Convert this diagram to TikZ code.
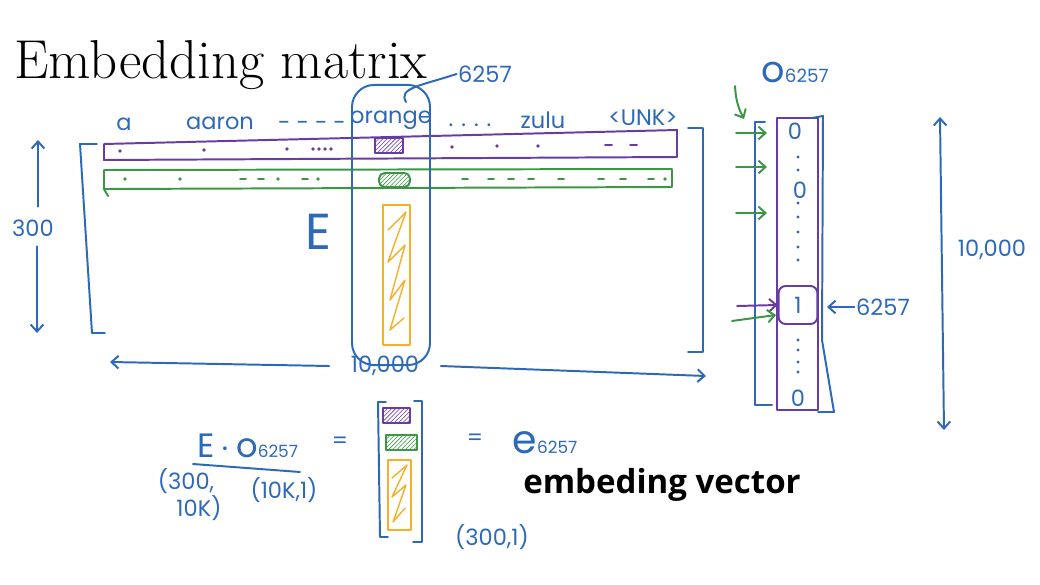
\documentclass[tikz,border=0pt]{standalone}
\usepackage{fontspec}
\usepackage{tikz}
\usetikzlibrary{arrows.meta,patterns}
\newfontfamily\handfont{Poppins}
\newfontfamily\slidefont{Open Sans}
\definecolor{penblue}{RGB}{45,105,185}
\definecolor{penpurple}{RGB}{105,60,165}
\definecolor{pengreen}{RGB}{60,150,70}
\definecolor{penorange}{RGB}{245,175,40}
\tikzset{
  pen/.style={line width=1.4pt, line cap=round, line join=round},
  hand/.style={text=penblue, font=\handfont\fontsize{16}{18}\selectfont, inner sep=1pt},
  hatched/.style={pen, draw=#1, pattern=north east lines, pattern color=#1},
}

\begin{document}
\begin{tikzpicture}[x=0.025cm, y=-0.025cm, >={Straight Barb[length=5pt,width=9pt]}]
\useasboundingbox (0,0) rectangle (1040,585);

% title
\node[anchor=base west, inner sep=0pt, font=\fontsize{39}{42}\selectfont] (title) at (14,78) {Embedding matrix};

% words over the columns of E
\node[hand] (wa) at (124,124) {a};
\node[hand] (waaron) at (220,123) {aaron};
\node[hand] (wdotsa) at (312,126) {- - - -};
\node[hand] (worange) at (391,120) {orange};
\node[hand] (wdotsb) at (470,125) {. . . .};
\node[hand] (wzulu) at (543,120) {zulu};
\node[hand] (wunk) at (643,118) {\textless UNK\textgreater};

% brackets of E
\draw[pen, penblue] (97,144) -- (80,144) -- (92,333) -- (105,333);
\draw[pen, penblue] (688,128) -- (703,128) -- (703,352) -- (688,352);

% first two rows
\draw[pen, penpurple] (104,144) -- (677,130) -- (677,157) -- (104,160) -- cycle;
\foreach \x/\y in {120/151,204/150,287/149,313/149,319/149,325/149,331/149,452/147,497/146,538/146}
  \fill[penpurple] (\x,\y) circle (1.3pt);
\foreach \x in {605,630}
  \draw[pen, penpurple] (\x,145) -- ++(7,0);
\draw[pen, pengreen] (104,170) -- (672,169) -- (672,187) -- (104,189) -- cycle;
\draw[pen, pengreen] (104,189) -- (108,196);
\foreach \x in {125,180,278,318,665}
  \fill[pengreen] (\x,179) circle (1.3pt);
\foreach \x in {240,258,302,462,488,508,528,558,598,620,648}
  \draw[pen, pengreen] (\x,179) -- ++(6,0);

% column of orange
\node[draw=penblue, pen, rounded corners=0.55cm, minimum width=1.95cm, minimum height=7cm, inner sep=0pt] (colorange) at (391,225) {};
\node[hand] (idx) at (485,74) {6257};
\draw[pen, penblue] ([shift={(-25,18)}]colorange.north east) .. controls (398,88) and (420,86) .. (idx.west);
\draw[hatched=penpurple] (375,138) rectangle (403,153);
\draw[hatched=pengreen, rounded corners=4] (379,173) rectangle (410,187);
\draw[pen, penorange] (383,205) rectangle (410,345);
\draw[pen, penorange, line width=1pt] (388,230) -- (406,212) -- (388,262) -- (405,245) -- (390,300) -- (405,280) -- (390,330) -- (404,318);

\node[hand, font=\handfont\fontsize{36}{36}\selectfont] (bigE) at (318,232) {E};

% sizes of E
\node[hand] (rows) at (33,228) {300};
\coordinate (rowstop) at (38,140);
\coordinate (rowsbot) at (37,333);
\draw[pen, penblue, ->, shorten <=8pt] (rowstop |- rows.north) -- (rowstop);
\draw[pen, penblue, ->, shorten <=6pt] (rowsbot |- rows.south) -- (rowsbot);
\node[hand] (cols) at (385,366) {10,000};
\coordinate (colsleft) at (110,362);
\coordinate (colsright) at (706,376);
\draw[pen, penblue, ->] ([xshift=-0.5cm]cols.west) -- (colsleft);
\draw[pen, penblue, ->] ([xshift=0.5cm]cols.east) -- (colsright);

% one-hot vector
\node[hand] (onehot) at (795,72) {{\fontsize{26}{26}\selectfont o}{\fontsize{13}{13}\selectfont 6257}};
\draw[pen, penblue] (765,122) -- (755,122) -- (755,405) -- (772,405);
\draw[pen, penpurple] (777,118) rectangle (818,410);
\draw[pen, penblue] (812,118) -- (823,116) -- (822,340) -- (834,412) -- (818,412);
\node[hand] (vzeroa) at (795,131) {0};
\node[hand] (vzerob) at (800,190) {0};
\node[hand, draw=penpurple, pen, rounded corners=5, minimum width=0.97cm, minimum height=0.95cm] (vone) at (798,305) {1};
\node[hand] (vzeroc) at (798,398) {0};
\foreach \y in {157,170,203,217,232,247,260,340,350,362,372}
  \fill[penblue] (798,\y) circle (1.1pt);
\draw[pen, pengreen, ->] (735,86) to[bend right=12] (744,119);
\foreach \y in {133,167,213}
  \draw[pen, pengreen, ->] (736,\y) -- (767,\y);
\draw[pen, penpurple, ->] (737,306) -- (vone.west);
\draw[pen, pengreen, ->] (732,321) -- (776,315);
\node[hand] (pos) at (883,307) {6257};
\draw[pen, penblue, ->] (pos.west) -- (827,307);
\draw[pen, penblue, <->] (940,117) -- (944,430);
\node[hand] (vlen) at (992,250) {10,000};

% E times o
\node[hand] (prod) at (248,446) {{\fontsize{24}{24}\selectfont E\,$\cdot$\,o}{\fontsize{12}{12}\selectfont 6257}};
\draw[pen, penblue] (193,464) -- (300,472);
\node[hand] (dimEa) at (186,481) {(300,};
\node[hand] (dimEb) at (199,508) {10K)};
\node[hand] (dimo) at (284,490) {(10K,1)};
\node[hand] (eqa) at (340,443) {=};
\draw[pen, penblue] (386,402) -- (378,402) -- (380,537) -- (388,537);
\draw[pen, penblue] (414,401) -- (422,401) -- (422,542) -- (413,542);
\draw[hatched=penpurple] (383,408) rectangle (410,423);
\draw[hatched=pengreen] (386,435) rectangle (417,450);
\draw[pen, penorange] (388,460) rectangle (411,530);
\draw[pen, penorange, line width=1pt] (392,478) -- (407,465) -- (392,497) -- (406,485) -- (393,522) -- (405,508);
\node[hand] (eqb) at (475,440) {=};
\node[hand] (emb) at (545,443) {{\fontsize{28}{28}\selectfont e}{\fontsize{12}{12}\selectfont 6257}};
\node[hand] (dimv) at (492,537) {(300,1)};
\node[font=\slidefont\bfseries\fontsize{23.5}{28}\selectfont, inner sep=0pt] (caption) at (662,485) {embeding vector};
\end{tikzpicture}
\end{document}
